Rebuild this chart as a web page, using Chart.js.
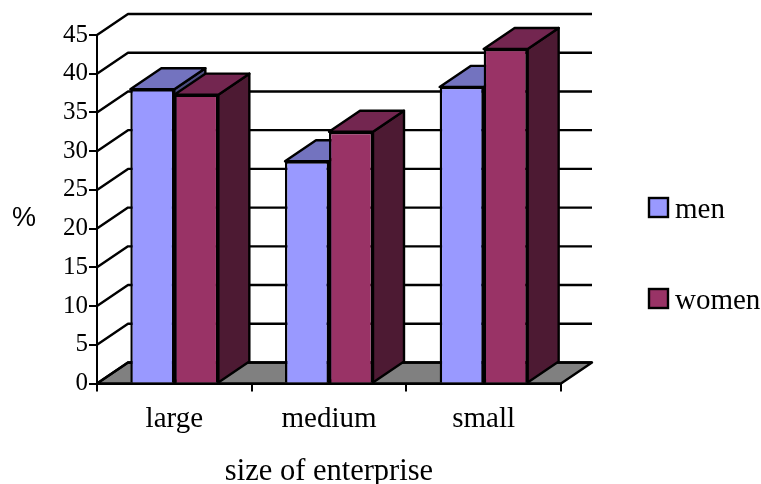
<!DOCTYPE html>
<html>
<head>
<meta charset="utf-8">
<script src="https://cdn.jsdelivr.net/npm/chart.js@4"></script>
<style>
    html, body { margin: 0; padding: 0; background: #fff; }
    canvas { display: block; }
</style>
</head>
<body>
<canvas id="chart1" width="761" height="484"></canvas>
<script>
const categories = ['large', 'medium', 'small'];
const men = [38, 28.7, 38.3];
const women = [37.3, 32.5, 43.2];
const yTicks = [0, 5, 10, 15, 20, 25, 30, 35, 40, 45];

// how far the depth faces are pushed back
const depthX = 31;
const depthY = 21;
const serif = '"Liberation Serif", serif';

function face(ctx, pts, fill) {
    ctx.beginPath();
    pts.forEach((p, i) => i ? ctx.lineTo(p[0], p[1]) : ctx.moveTo(p[0], p[1]));
    ctx.closePath();
    ctx.fillStyle = fill;
    ctx.fill();
    ctx.stroke();
}

const wallPlugin = {
    id: 'wall',
    // back wall gridlines, left wall diagonals, floor and the % label
    beforeDraw(chart) {
        const ctx = chart.ctx;
        const { left, right, bottom } = chart.chartArea;
        const y = chart.scales.y;
        ctx.save();
        ctx.strokeStyle = '#000';
        ctx.lineWidth = 2.4;
        ctx.lineJoin = 'round';
        face(ctx, [[left, bottom], [left + depthX, bottom - depthY], [right + depthX, bottom - depthY], [right, bottom]], '#808080');
        yTicks.forEach(t => {
            const py = y.getPixelForValue(t);
            ctx.beginPath();
            ctx.moveTo(left, py);
            ctx.lineTo(left + depthX, py - depthY);
            ctx.lineTo(right + depthX, py - depthY);
            ctx.stroke();
        });
        ctx.fillStyle = '#000';
        ctx.font = '27px "Liberation Sans", sans-serif';
        ctx.textAlign = 'left';
        ctx.textBaseline = 'middle';
        ctx.fillText('%', 12, 219);
        ctx.restore();
    },
    // tops and sides go down first, the library then paints the fronts over them
    beforeDatasetsDraw(chart) {
        const ctx = chart.ctx;
        const shades = [
            { top: '#7373bf', side: '#4d4d80' },
            { top: '#732650', side: '#4d1a33' }
        ];
        ctx.save();
        ctx.strokeStyle = '#000';
        ctx.lineWidth = 2.4;
        ctx.lineJoin = 'round';
        categories.forEach((c, i) => {
            shades.forEach((s, d) => {
                const bar = chart.getDatasetMeta(d).data[i];
                const x0 = bar.x - bar.width / 2;
                const x1 = bar.x + bar.width / 2;
                face(ctx, [[x1, bar.y], [x1 + depthX, bar.y - depthY], [x1 + depthX, bar.base - depthY], [x1, bar.base]], s.side);
                face(ctx, [[x0, bar.y], [x0 + depthX, bar.y - depthY], [x1 + depthX, bar.y - depthY], [x1, bar.y]], s.top);
            });
        });
        ctx.restore();
    },
    // legend swatches and names, right of the plot
    afterDraw(chart) {
        const ctx = chart.ctx;
        ctx.save();
        ctx.strokeStyle = '#000';
        ctx.lineWidth = 2.4;
        ctx.font = '29px ' + serif;
        ctx.textAlign = 'left';
        ctx.textBaseline = 'alphabetic';
        chart.data.datasets.forEach((ds, i) => {
            const top = 198 + i * 91;
            ctx.fillStyle = ds.backgroundColor;
            ctx.fillRect(649, top, 19, 19);
            ctx.strokeRect(649, top, 19, 19);
            ctx.fillStyle = '#000';
            ctx.fillText(ds.label, 675, top + 20);
        });
        ctx.restore();
    }
};

const ctx = document.getElementById('chart1');
new Chart(ctx, {
    type: 'bar',
    data: {
        labels: categories,
        datasets: [
            { label: 'men', data: men, backgroundColor: '#9999ff', borderColor: '#000', borderWidth: 2.4, categoryPercentage: 0.569, barPercentage: 1 },
            { label: 'women', data: women, backgroundColor: '#993366', borderColor: '#000', borderWidth: 2.4, categoryPercentage: 0.569, barPercentage: 1 }
        ]
    },
    options: {
        responsive: false,
        animation: false,
        layout: { padding: { left: 0, right: 200, top: 35, bottom: 0 } },
        plugins: {
            tooltip: { enabled: false },
            legend: { display: false }
        },
        scales: {
            x: {
                afterFit(s) { s.height = 100.5; },
                grid: { drawOnChartArea: false, color: '#000', lineWidth: 2, tickLength: 8 },
                border: { color: '#000', width: 2 },
                ticks: { color: '#000', font: { family: serif, size: 29 }, padding: 10, maxRotation: 0 },
                title: { display: true, text: 'size of enterprise', color: '#000', font: { family: serif, size: 30.5 }, padding: { top: 16, bottom: -6 } }
            },
            y: {
                min: 0,
                max: 45,
                afterFit(s) { s.width = 97; },
                afterBuildTicks(s) { s.ticks = yTicks.map(v => ({ value: v })); },
                grid: { drawOnChartArea: false, color: '#000', lineWidth: 2, tickLength: 8 },
                border: { color: '#000', width: 2 },
                ticks: { color: '#000', font: { family: serif, size: 25 }, padding: 1 }
            }
        }
    },
    plugins: [wallPlugin]
});
</script>
</body>
</html>
